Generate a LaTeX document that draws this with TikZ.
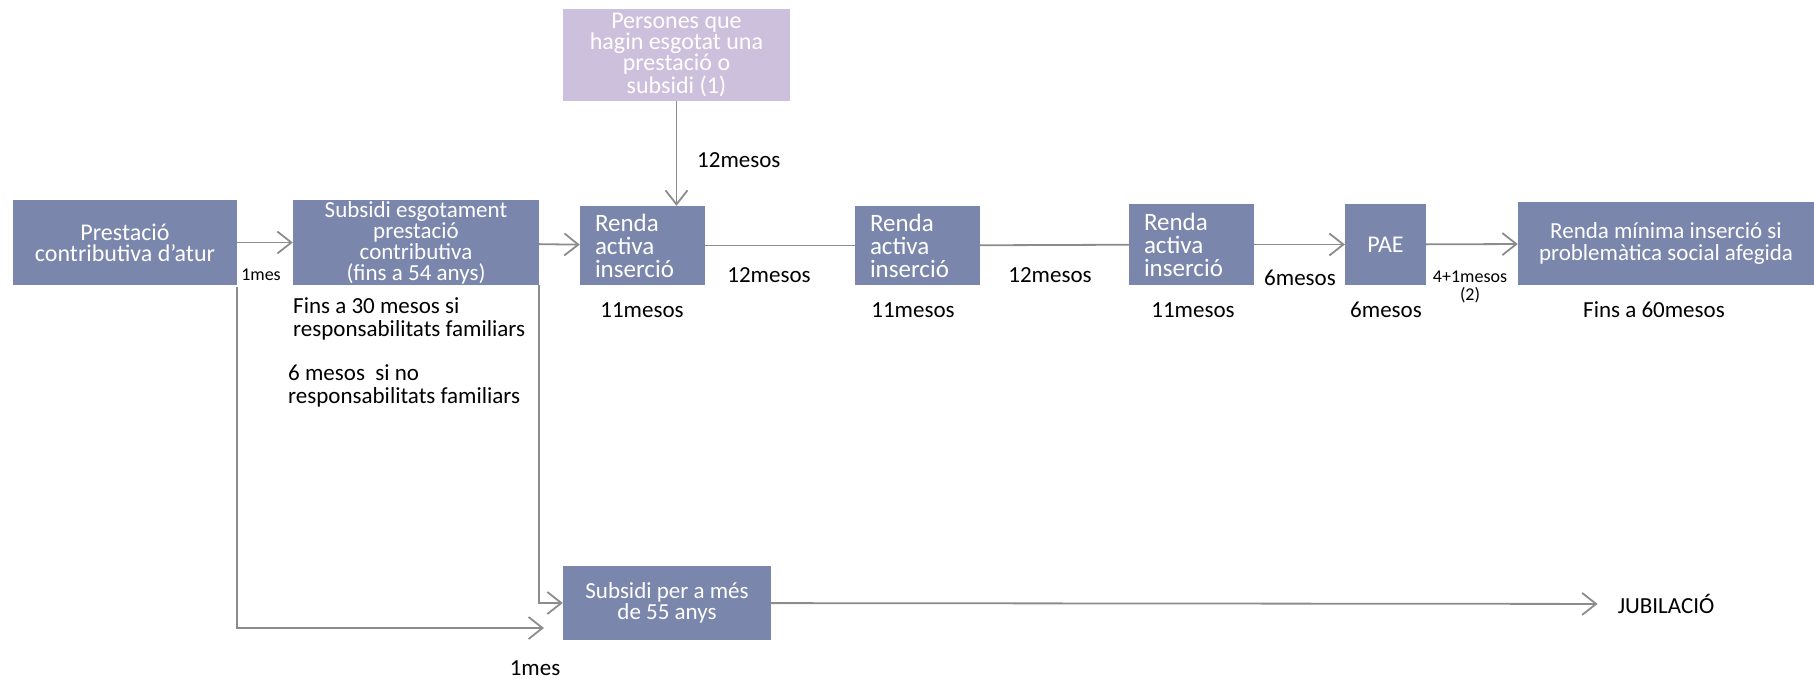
\documentclass[tikz,border=0pt]{standalone}
\usepackage{fontspec}
\setmainfont{Carlito}
\usetikzlibrary{arrows.meta}
\definecolor{boxblue}{HTML}{7A86AB}
\definecolor{boxlila}{HTML}{CCC0DD}
\definecolor{linegray}{HTML}{8C8C8C}
\tikzset{
  box/.style={fill=boxblue, text=white, align=center, inner sep=2pt,
    font=\fontsize{24}{21}\selectfont},
  renda/.style={box, align=left, text width=95pt, inner xsep=15pt,
    minimum height=79pt, font=\fontsize{25}{23}\selectfont},
  lbl/.style={font=\fontsize{23}{23}\selectfont, inner sep=0pt},
  small/.style={font=\fontsize{18}{18}\selectfont, inner sep=0pt},
  link/.style={draw=linegray, line width=1.8pt},
  arr/.style={link, -{Straight Barb[length=14pt,width=22pt]}}
}
\begin{document}
\begin{tikzpicture}[x=1pt,y=-1pt]
  \useasboundingbox (0,0) rectangle (1814,679);
  % boxes
  \node[box, minimum width=224pt, minimum height=85pt] (pca) at (125,242.5)
    {Prestació\\contributiva d'atur};
  \node[box, minimum width=246pt, minimum height=85pt, inner sep=0pt,
    font=\fontsize{23}{21}\selectfont] (sub) at (416,242.5)
    {Subsidi esgotament\\prestació\\contributiva\\(fins a 54 anys)};
  \node[box, fill=boxlila, minimum width=227pt, minimum height=92pt,
    font=\fontsize{24}{21}\selectfont] (per) at (676.5,55)
    {Persones que\\hagin esgotat una\\prestació o\\subsidi (1)};
  \node[renda] (ra1) at (642.5,245.5) {Renda\\activa\\inserció};
  \node[renda] (ra2) at (917.5,245.5) {Renda\\activa\\inserció};
  \node[renda, minimum height=81pt] (ra3) at (1191.5,244.5) {Renda\\activa\\inserció};
  \node[box, minimum width=81pt, minimum height=81pt] (pae) at (1385.5,244.5) {PAE};
  \node[box, minimum width=296pt, minimum height=83pt,
    font=\fontsize{23}{22}\selectfont] (rmi) at (1666,243.5)
    {Renda mínima inserció si\\problemàtica social afegida};
  \node[box, minimum width=208pt, minimum height=74pt,
    font=\fontsize{23}{21}\selectfont] (s55) at (667,603)
    {Subsidi per a més\\de 55 anys};
  \node[lbl] (jub) at (1666,604) {JUBILACIÓ};
  \coordinate (fin1) at (544,628);

  % connectors
  \draw[arr] (pca) -- (sub);
  \draw[arr] (sub) -- (ra1);
  \draw[arr] (per.south) -- (per.south |- ra1.north);
  \draw[link] (ra1) -- (ra2);
  \draw[link] (ra2) -- (ra3);
  \draw[arr] (ra3) -- (pae);
  \draw[arr] (pae) -- (rmi);
  \draw[arr] (sub.south east) |- (s55.west);
  \draw[arr] ([yshift=-2pt]pca.south east) |- (fin1);
  \draw[arr, shorten >=20pt] (s55) -- (jub);

  % labels
  \node[small] (l1mes) at (261,275) {1mes};
  \node[lbl, anchor=west] (l12a) at (697,160) {12mesos};
  \node[lbl] (l12b) at (769,275) {12mesos};
  \node[lbl] (l12c) at (1050,275) {12mesos};
  \node[lbl] (l6a) at (1300,278) {6mesos};
  \node[small, align=center] (l41) at (1470,287) {4+1mesos\\(2)};
  \node[lbl] (l11a) at (642,310) {11mesos};
  \node[lbl] (l11b) at (913,310) {11mesos};
  \node[lbl] (l11c) at (1193,310) {11mesos};
  \node[lbl] (l6b) at (1386,310) {6mesos};
  \node[lbl] (l60) at (1654,310) {Fins a 60mesos};
  \node[lbl, anchor=west, align=left] (l30) at (293,319)
    {Fins a 30 mesos si\\responsabilitats familiars};
  \node[lbl, anchor=west, align=left] (l6no) at (288,386)
    {6 mesos\ \ si no\\responsabilitats familiars};
  \node[lbl] (l1mesb) at (535,668) {1mes};
\end{tikzpicture}
\end{document}
